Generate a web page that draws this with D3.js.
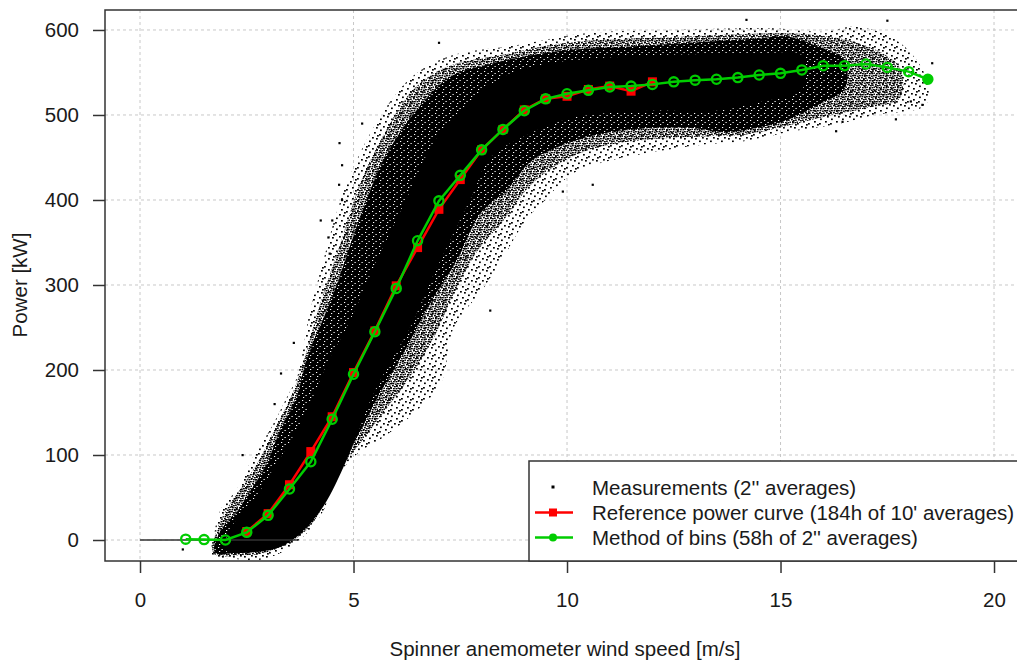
<!DOCTYPE html>
<html>
<head>
<meta charset="utf-8">
<script src="https://cdn.jsdelivr.net/npm/d3@7"></script>
<style>
  body { margin: 0; background: #fff; }
  svg text { font-family: "Liberation Sans", Arial, sans-serif; fill: #1a1a1a; }
</style>
</head>
<body>
<svg id="chart" width="1017" height="662"></svg>
<script>
"use strict";

// method of bins (green), wind speed [m/s] and power [kW]
var binSpeed = [1.07, 1.5, 2.0, 2.5, 3.0, 3.5, 4.0, 4.5, 5.0, 5.5, 6.0, 6.5, 7.0, 7.5, 8.0, 8.5, 9.0, 9.5,
                10.0, 10.5, 11.0, 11.5, 12.0, 12.5, 13.0, 13.5, 14.0, 14.5, 15.0, 15.5, 16.0, 16.5, 17.0, 17.5, 18.0, 18.45];
var binPower = [1, 0.5, 0, 9, 29, 60, 92, 142, 195, 245, 296, 352, 399, 429, 459, 483, 505, 519,
                525, 529, 533, 534, 536, 539, 541, 542, 544, 547, 549, 553, 558, 558, 560, 556, 551, 542];

// reference power curve (red)
var refSpeed = [2.5, 3.0, 3.5, 4.0, 4.5, 5.0, 5.5, 6.0, 6.5, 7.0, 7.5, 8.0, 8.5, 9.0, 9.5, 10.0, 10.5, 11.0, 11.5, 12.0];
var refPower = [10, 31, 65, 104, 145, 197, 246, 299, 344, 389, 424, 459, 483, 506, 519, 522, 530, 534, 528, 539];

var cloudOuter = [
  [1.7, -18], [1.75, 10], [1.88, 35], [2.27, 60], [2.65, 98], [3.05, 130], [3.44, 168], [3.7, 195],
  [3.95, 262], [4.3, 330], [4.7, 400], [5.3, 470], [6.0, 525], [6.5, 550], [7.3, 570], [8.8, 582],
  [10.4, 596], [12.5, 600], [14.8, 602], [16.0, 598], [16.8, 604], [17.8, 585], [18.4, 545],
  [18.4, 512], [17.2, 500], [16.4, 490], [15.2, 480], [14.0, 468], [13.3, 466], [12.1, 457],
  [10.9, 445], [10.1, 430], [9.45, 398], [9.06, 378], [8.5, 332], [8.04, 296], [7.35, 250],
  [7.05, 185], [6.5, 153], [5.7, 121], [5.1, 102], [4.55, 70], [4.3, 35], [3.85, 5], [3.3, -15],
  [2.7, -24], [2.2, -22]
];
var cloudHalo = [
  [1.72, -16], [1.8, 12], [2.05, 38], [2.38, 62], [2.8, 95], [3.15, 130], [3.55, 170], [3.8, 205],
  [4.2, 275], [4.7, 350], [5.2, 425], [5.8, 485], [6.4, 530], [7.2, 557], [8.5, 571], [10.0, 585],
  [12.7, 592], [14.6, 596], [15.6, 595], [16.4, 590], [17.3, 575], [17.8, 555],
  [17.8, 520], [17.0, 508], [16.2, 500], [15.2, 488], [14.2, 477], [13.3, 475], [12.1, 472],
  [11.0, 465], [10.3, 455], [9.6, 436], [9.1, 415], [8.5, 375], [7.9, 340], [7.35, 290],
  [6.9, 240], [6.3, 190], [5.7, 150], [5.1, 110], [4.5, 72], [4.2, 32], [3.75, 5], [3.0, -14],
  [2.4, -18]
];
var cloudMid = [
  [1.75, -14], [1.9, 12], [2.3, 35], [2.5, 51], [2.97, 90], [3.28, 129], [3.67, 169], [3.9, 212],
  [4.53, 290], [5.08, 369], [5.7, 447], [6.48, 506], [7.27, 545], [8.2, 560], [9.77, 575],
  [11.3, 580], [12.9, 585], [14.45, 590], [15.2, 592], [15.9, 580], [16.5, 565],
  [16.5, 530], [16.0, 515], [15.2, 495], [14.45, 485], [13.7, 480], [12.9, 485], [12.1, 485],
  [11.3, 482], [10.55, 475], [9.77, 462], [9.14, 445], [8.6, 412], [7.97, 384], [7.42, 329],
  [6.8, 279], [6.25, 227], [5.62, 173], [5.08, 121], [4.45, 74], [4.14, 31], [3.67, 4],
  [2.8, -12], [2.27, -15]
];
var cloudCore = [
  [2.0, -12], [2.1, 12], [2.7, 50], [3.2, 90], [3.67, 129], [4.06, 169], [4.4, 210], [4.85, 251],
  [5.55, 329], [6.3, 408], [6.9, 470], [7.5, 505], [8.5, 545], [9.5, 560], [10.5, 566], [12.0, 570],
  [13.5, 572], [14.5, 572], [15.5, 570],
  [15.5, 530], [14.5, 515], [13.5, 505], [12.0, 505], [10.5, 500], [9.8, 492], [9.0, 475],
  [8.2, 450], [7.8, 408], [7.03, 329], [6.33, 251], [5.47, 173], [4.84, 94], [4.3, 40], [3.8, 10],
  [3.3, -8], [2.7, -14]
];
// scattered single measurements
var outliers = [
  [4.67, 467], [4.73, 441], [4.66, 418], [4.73, 400], [4.23, 376], [4.5, 376], [4.41, 356], [4.44, 337],
  [1.0, -11], [17.5, 611], [18.55, 561], [18.05, 516], [18.32, 512], [16.45, 492], [2.4, 100], [3.6, 232],
  [3.3, 196], [3.15, 160], [5.2, 490], [7.0, 585], [14.2, 612], [16.3, 481], [17.7, 495], [10.6, 418],
  [8.2, 270], [9.9, 410]
];
// idle measurements lying on zero power
var zeroRun = [0.0, 3.7];

var xTicks = [0, 5, 10, 15, 20];
var yTicks = [0, 100, 200, 300, 400, 500, 600];

var legendLabels = ["Measurements (2'' averages)", "Reference power curve (184h of 10' averages)", "Method of bins (58h of 2'' averages)"];

var RED = "#ff0000", GREEN = "#00cd00";
var FONT = "20.5px";

var svg = d3.select("#chart");
var plotLeft = 105, plotRight = 1019, plotTop = 10, plotBottom = 561;

var x = d3.scaleLinear().domain([-0.82, 20.585]).range([plotLeft, plotRight]);
var y = d3.scaleLinear().domain([-24.7, 623.5]).range([plotBottom, plotTop]);

// textures for the point cloud
var defs = svg.append("defs");
function dotPattern(id, size, bg, fg, spots, w, h) {
  var p = defs.append("pattern").attr("id", id).attr("patternUnits", "userSpaceOnUse")
      .attr("width", size).attr("height", size);
  if (bg) p.append("rect").attr("width", size).attr("height", size).attr("fill", bg);
  spots.forEach(function (s) {
    p.append("rect").attr("x", s[0]).attr("y", s[1]).attr("width", w).attr("height", h).attr("fill", fg);
  });
}
dotPattern("sparse", 11, null, "#000", [[0, 0], [5, 2], [9, 5], [2, 6], [6, 8.5], [3, 3]], 1.8, 1.6);
dotPattern("halo", 7, null, "#000", [[0, 0], [2, 1], [4, 0.5], [1, 3], [3.5, 3], [5.5, 2.5], [0.5, 5], [3, 5.5], [5, 5]], 1.8, 1.4);
dotPattern("dense", 7, "#000", "#fff", [[1, 1], [4.5, 3], [2, 5]], 1.2, 1);

// grid
var grid = svg.append("g").attr("stroke", "#c8c8c8").attr("stroke-dasharray", "3,3").attr("stroke-width", 1);
grid.selectAll(".gx").data(xTicks).enter().append("line")
    .attr("x1", function (d) { return x(d); }).attr("x2", function (d) { return x(d); })
    .attr("y1", plotTop).attr("y2", plotBottom);
grid.selectAll(".gy").data(yTicks).enter().append("line")
    .attr("y1", function (d) { return y(d); }).attr("y2", function (d) { return y(d); })
    .attr("x1", plotLeft).attr("x2", plotRight);

// cloud
var outline = d3.line().x(function (d) { return x(d[0]); }).y(function (d) { return y(d[1]); })
    .curve(d3.curveCatmullRomClosed.alpha(0.5));
var cloud = svg.append("g");
cloud.append("path").attr("d", outline(cloudOuter)).attr("fill", "url(#sparse)");
cloud.append("path").attr("d", outline(cloudHalo)).attr("fill", "url(#halo)");
cloud.append("path").attr("d", outline(cloudMid)).attr("fill", "url(#dense)");
cloud.append("path").attr("d", outline(cloudCore)).attr("fill", "#000");
cloud.selectAll("rect.out").data(outliers).enter().append("rect")
    .attr("x", function (d) { return x(d[0]) - 1; }).attr("y", function (d) { return y(d[1]) - 1; })
    .attr("width", 2.2).attr("height", 2.2).attr("fill", "#000");
cloud.append("line")
    .attr("x1", x(zeroRun[0])).attr("x2", x(zeroRun[1]))
    .attr("y1", y(0)).attr("y2", y(0))
    .attr("stroke", "#333").attr("stroke-width", 1.6);

// reference curve
var refData = refSpeed.map(function (s, i) { return [s, refPower[i]]; });
var binData = binSpeed.map(function (s, i) { return [s, binPower[i]]; });
var line = d3.line().x(function (d) { return x(d[0]); }).y(function (d) { return y(d[1]); });

svg.append("path").attr("d", line(refData)).attr("fill", "none").attr("stroke", RED).attr("stroke-width", 2.5);
svg.selectAll("rect.ref").data(refData).enter().append("rect")
    .attr("x", function (d) { return x(d[0]) - 4.5; }).attr("y", function (d) { return y(d[1]) - 4.5; })
    .attr("width", 9).attr("height", 9).attr("fill", RED);

// method of bins
svg.append("path").attr("d", line(binData)).attr("fill", "none").attr("stroke", GREEN).attr("stroke-width", 2.5);
svg.selectAll("circle.bin").data(binData).enter().append("circle")
    .attr("cx", function (d) { return x(d[0]); }).attr("cy", function (d) { return y(d[1]); })
    .attr("r", 4.6)
    .attr("fill", function (d, i) { return i === binData.length - 1 ? GREEN : "none"; })
    .attr("stroke", GREEN).attr("stroke-width", 2.3);

// axes
var xAxis = svg.append("g").attr("transform", "translate(0," + plotBottom + ")")
    .call(d3.axisBottom(x).tickValues(xTicks).tickSize(12).tickPadding(19).tickFormat(d3.format("d")));
var yAxis = svg.append("g").attr("transform", "translate(" + plotLeft + ",0)")
    .call(d3.axisLeft(y).tickValues(yTicks).tickSize(12).tickPadding(14).tickFormat(d3.format("d")));
[xAxis, yAxis].forEach(function (a) {
  a.select(".domain").remove();
  a.selectAll(".tick line").attr("stroke", "#333").attr("stroke-width", 1.5);
  a.selectAll(".tick text").attr("font-size", FONT).attr("fill", "#1a1a1a")
      .attr("font-family", "'Liberation Sans', Arial, sans-serif");
});

svg.append("rect").attr("x", plotLeft).attr("y", plotTop)
    .attr("width", plotRight - plotLeft).attr("height", plotBottom - plotTop)
    .attr("fill", "none").attr("stroke", "#333").attr("stroke-width", 1.5);

svg.append("text").attr("x", 565).attr("y", 648).attr("text-anchor", "middle")
    .attr("dominant-baseline", "central").attr("font-size", FONT)
    .text("Spinner anemometer wind speed [m/s]");
svg.append("text").attr("transform", "translate(19,285) rotate(-90)").attr("text-anchor", "middle")
    .attr("dominant-baseline", "central").attr("font-size", FONT)
    .text("Power [kW]");

// legend
var legend = svg.append("g");
legend.append("rect").attr("x", 529).attr("y", 461).attr("width", 500).attr("height", plotBottom - 461)
    .attr("fill", "#fff").attr("stroke", "#333").attr("stroke-width", 1.5);
var rowY = [487, 512.5, 537.5];
legend.append("rect").attr("x", 551.5).attr("y", rowY[0] - 1.5).attr("width", 3).attr("height", 3).attr("fill", "#000");
legend.append("line").attr("x1", 535).attr("x2", 573).attr("y1", rowY[1]).attr("y2", rowY[1])
    .attr("stroke", RED).attr("stroke-width", 2.5);
legend.append("rect").attr("x", 549).attr("y", rowY[1] - 4).attr("width", 8).attr("height", 8).attr("fill", RED);
legend.append("line").attr("x1", 535).attr("x2", 573).attr("y1", rowY[2]).attr("y2", rowY[2])
    .attr("stroke", GREEN).attr("stroke-width", 2.5);
legend.append("circle").attr("cx", 553).attr("cy", rowY[2]).attr("r", 4).attr("fill", GREEN);
legend.selectAll("text").data(legendLabels).enter().append("text")
    .attr("x", 592).attr("y", function (d, i) { return rowY[i]; })
    .attr("dominant-baseline", "central").attr("font-size", FONT)
    .text(function (d) { return d; });
</script>
</body>
</html>
